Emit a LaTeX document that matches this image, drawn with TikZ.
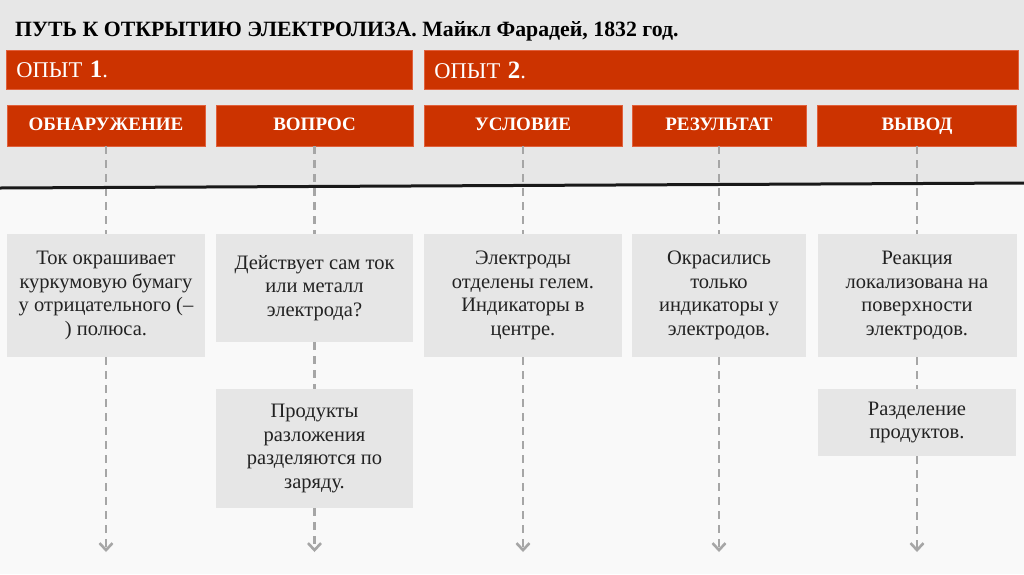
\documentclass[tikz,border=0pt]{standalone}
\usepackage{fontspec}
\setmainfont{Liberation Serif}
\usetikzlibrary{arrows.meta}
\definecolor{redbar}{RGB}{204,51,0}
\definecolor{rededge}{RGB}{224,96,60}
\definecolor{topbg}{RGB}{231,231,231}
\definecolor{botbg}{RGB}{249,249,249}
\definecolor{boxgray}{RGB}{230,230,230}
\definecolor{dashgray}{RGB}{166,166,166}
\definecolor{txt}{RGB}{34,34,34}
\definecolor{rule}{RGB}{25,25,25}
\begin{document}
\begin{tikzpicture}[x=1pt,y=-1pt,
  redbox/.style={fill=redbar, draw=rededge, line width=0.8pt, inner sep=0pt},
  hdr/.style={redbox, minimum height=41pt, text height=13pt, text depth=4pt, text=white, font=\fontsize{19}{22}\selectfont\bfseries, align=center},
  bar/.style={redbox, anchor=north west, minimum height=39pt, inner xsep=10pt, align=left, text=white, font=\fontsize{22.5}{24}\selectfont},
  card/.style={fill=boxgray, inner sep=0pt, text=txt, font=\fontsize{20.5}{23.5}\selectfont, align=center},
  link/.style={draw=dashgray, line width=2.4pt, dash pattern=on 8pt off 6pt},
  tip/.style={link, -{Straight Barb[length=7pt,width=13pt,line width=2.6pt]}}
]
\useasboundingbox (0,0) rectangle (1024,574);
\fill[botbg] (0,0) rectangle (1024,574);
\fill[topbg] (0,0) -- (1024,0) -- (1024,183) -- (0,188) -- cycle;

\node[anchor=base west, font=\fontsize{21.8}{24}\selectfont\bfseries, text=black, inner sep=0pt] (title) at (15,36) {ПУТЬ К ОТКРЫТИЮ ЭЛЕКТРОЛИЗА. Майкл Фарадей, 1832 год.};

\node[bar, minimum width=406pt, text width=386pt] (op1) at (6,50) {ОПЫТ {\bfseries\fontsize{25}{24}\selectfont 1}.};
\node[bar, minimum width=594pt, text width=574pt] (op2) at (424,50) {ОПЫТ {\bfseries\fontsize{25}{24}\selectfont 2}.};

\node[hdr, minimum width=198pt] (h1) at (106,125.5) {ОБНАРУЖЕНИЕ};
\node[hdr, minimum width=197pt] (h2) at (314.5,125.5) {ВОПРОС};
\node[hdr, minimum width=198pt] (h3) at (523,125.5) {УСЛОВИЕ};
\node[hdr, minimum width=174pt] (h4) at (719,125.5) {РЕЗУЛЬТАТ};
\node[hdr, minimum width=199pt] (h5) at (917,125.5) {ВЫВОД};

\node[card, minimum width=198pt, minimum height=123pt] (c1) at (106,295.5) {Ток окрашивает\\куркумовую бумагу\\у отрицательного (–\\) полюса.};
\node[card, minimum width=197pt, minimum height=108pt] (c2) at (314.5,288) {Действует сам ток\\или металл\\электрода?};
\node[card, minimum width=198pt, minimum height=123pt] (c3) at (523,295.5) {Электроды\\отделены гелем.\\Индикаторы в\\центре.};
\node[card, minimum width=174pt, minimum height=123pt] (c4) at (719,295.5) {Окрасились\\только\\индикаторы у\\электродов.};
\node[card, minimum width=199pt, minimum height=123pt] (c5) at (917,295.5) {Реакция\\локализована на\\поверхности\\электродов.};
\node[card, minimum width=197pt, minimum height=119pt] (c6) at (314.5,448.5) {Продукты\\разложения\\разделяются по\\заряду.};
\node[card, minimum width=198pt, minimum height=67pt] (c7) at (917,422.5) {Разделение\\продуктов.};

\coordinate (e1) at (106,552);
\coordinate (e2) at (314.5,552);
\coordinate (e3) at (523,552);
\coordinate (e4) at (719,552);
\coordinate (e5) at (917,552);

\draw[link] (h1) -- (c1);
\draw[link] (h2) -- (c2);
\draw[link] (h3) -- (c3);
\draw[link] (h4) -- (c4);
\draw[link] (h5) -- (c5);
\draw[link] (c2) -- (c6);
\draw[link] (c5) -- (c7);
\draw[tip] (c1) -- (e1);
\draw[tip] (c6) -- (e2);
\draw[tip] (c3) -- (e3);
\draw[tip] (c4) -- (e4);
\draw[tip] (c7) -- (e5);

\draw[rule, line width=3pt] (0,188) -- (1024,183);
\end{tikzpicture}
\end{document}
